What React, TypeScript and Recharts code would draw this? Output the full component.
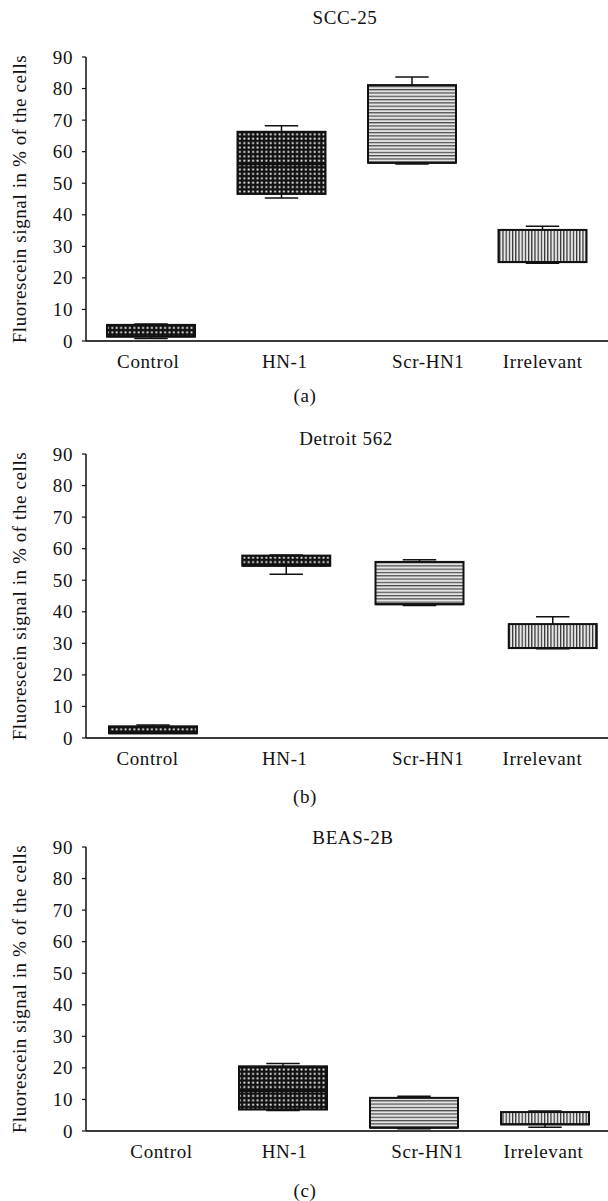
import React from 'react';
import { ComposedChart, Bar, XAxis, YAxis } from 'recharts';

const categories = ['Control', 'HN-1', 'Scr-HN1', 'Irrelevant'];
const yTicks = [0, 10, 20, 30, 40, 50, 60, 70, 80, 90];
const fillKinds = ['dots', 'dots', 'hstripes', 'vstripes'];

// (a) SCC-25
const sccMin = [0.8, 45.3, 56.1, 24.6];
const sccQ1 = [1.4, 46.6, 56.5, 25.0];
const sccMedian = [1.4, 56.0, 56.5, 25.0];
const sccQ3 = [5.1, 66.3, 81.1, 35.2];
const sccMax = [5.4, 68.2, 83.7, 36.4];

// (b) Detroit 562
const detMin = [1.5, 51.9, 42.0, 28.3];
const detQ1 = [1.5, 54.6, 42.4, 28.5];
const detMedian = [1.5, 54.6, 42.4, 28.5];
const detQ3 = [3.7, 57.8, 55.8, 36.1];
const detMax = [4.1, 58.0, 56.5, 38.4];

// (c) BEAS-2B
const beasMin = [null, 6.5, 0.75, 1.2];
const beasQ1 = [null, 6.8, 1.06, 2.1];
const beasMedian = [null, 12.7, 1.06, 2.1];
const beasQ3 = [null, 20.5, 10.5, 6.0];
const beasMax = [null, 21.4, 11.0, 6.3];

const FONT = '"Liberation Serif", "Times New Roman", serif';
const TEXT_STYLE: React.CSSProperties = { fontFamily: FONT, fontSize: 19, letterSpacing: '0.6px', fill: '#111', color: '#111' };

function buildRows(min: any[], q1: any[], med: any[], q3: any[], max: any[]) {
  return categories.map((name, i) => ({
    name,
    min: min[i],
    q1: q1[i],
    median: med[i],
    q3: q3[i],
    max: max[i],
    range: min[i] == null ? null : [min[i], max[i]],
  }));
}

function Patterns({ prefix }: { prefix: string }) {
  return (
    <defs>
      <pattern id={`${prefix}-dots`} patternUnits="userSpaceOnUse" width={4.4} height={4.4}>
        <rect x={0} y={0} width={4.4} height={4.4} fill="#121212" />
        <rect x={1.4} y={1.4} width={1.8} height={1.8} fill="#ffffff" />
      </pattern>
      <pattern id={`${prefix}-hstripes`} patternUnits="userSpaceOnUse" width={6} height={3.3}>
        <rect x={0} y={0} width={6} height={3.3} fill="#e4e4e4" />
        <rect x={0} y={0} width={6} height={1.2} fill="#4a4a4a" />
      </pattern>
      <pattern id={`${prefix}-vstripes`} patternUnits="userSpaceOnUse" width={3.2} height={6}>
        <rect x={0} y={0} width={3.2} height={6} fill="#e8e8e8" />
        <rect x={0} y={0} width={1.2} height={6} fill="#2e2e2e" />
      </pattern>
    </defs>
  );
}

function BoxShape(props: any) {
  const { x, y, width, height, payload, prefix } = props;
  if (!payload || payload.max == null || payload.min == null) return null;
  const top = Math.min(y, y + height);
  const bottom = Math.max(y, y + height);
  const span = payload.max - payload.min;
  if (!span) return null;
  const ppu = (bottom - top) / span;
  const toY = (v: number) => bottom - (v - payload.min) * ppu;
  const cx = x + width / 2;
  const capHalf = width * 0.19;
  const idx = categories.indexOf(payload.name);
  const fill = `url(#${prefix}-${fillKinds[idx]})`;
  const yq1 = toY(payload.q1);
  const yq3 = toY(payload.q3);
  const ymed = toY(payload.median);
  const ymax = toY(payload.max);
  const ymin = toY(payload.min);
  return (
    <g>
      <line x1={cx} x2={cx} y1={yq3} y2={ymax} stroke="#111" strokeWidth={1.5} />
      <line x1={cx - capHalf} x2={cx + capHalf} y1={ymax} y2={ymax} stroke="#111" strokeWidth={1.5} />
      <line x1={cx} x2={cx} y1={yq1} y2={ymin} stroke="#111" strokeWidth={1.5} />
      <line x1={cx - capHalf} x2={cx + capHalf} y1={ymin} y2={ymin} stroke="#111" strokeWidth={1.5} />
      <rect x={x} y={yq3} width={width} height={yq1 - yq3} fill={fill} stroke="#111" strokeWidth={2} />
      <line x1={x} x2={x + width} y1={ymed} y2={ymed} stroke="#111" strokeWidth={2} />
    </g>
  );
}

function YTick(props: any) {
  const { x, y, payload } = props;
  return (
    <text x={x} y={y} textAnchor="end" dominantBaseline="central" style={TEXT_STYLE}>
      {payload.value}
    </text>
  );
}

function makeXTick(shifts: number[]) {
  return function XTick(props: any) {
    const { x, y, payload, index } = props;
    const i = typeof index === 'number' ? index : categories.indexOf(payload.value);
    return (
      <text x={x + (shifts[i] || 0)} y={y + 20} textAnchor="middle" dominantBaseline="central" style={TEXT_STYLE}>
        {payload.value}
      </text>
    );
  };
}

function Txt({ x, y, children, rotate }: { x: number; y: number; children: React.ReactNode; rotate?: boolean }) {
  return (
    <div
      style={{
        position: 'absolute',
        left: x,
        top: y,
        transform: `translate(-50%, -50%)${rotate ? ' rotate(-90deg)' : ''}`,
        whiteSpace: 'nowrap',
        lineHeight: 1,
        fontFamily: FONT,
        fontSize: 19,
        letterSpacing: '0.6px',
        color: '#111',
      }}
    >
      {children}
    </div>
  );
}

function Panel({ prefix, rows, top, width, shifts }: { prefix: string; rows: any[]; top: number; width: number; shifts: number[] }) {
  const XTick = makeXTick(shifts);
  return (
    <div style={{ position: 'absolute', left: 0, top, width, height: 371 }}>
      <ComposedChart width={width} height={371} data={rows} margin={{ top: 57, right: 0, bottom: 0, left: 0 }}>
        <Patterns prefix={prefix} />
        <XAxis
          dataKey="name"
          type="category"
          interval={0}
          tickLine={false}
          tickSize={0}
          tickMargin={0}
          height={30}
          axisLine={{ stroke: '#3a3a3a', strokeWidth: 2 }}
          tick={<XTick />}
        />
        <YAxis
          type="number"
          domain={[0, 90]}
          ticks={yTicks}
          interval={0}
          width={86}
          tickSize={4}
          tickMargin={9}
          axisLine={{ stroke: '#111', strokeWidth: 1.5 }}
          tickLine={{ stroke: '#111', strokeWidth: 1.2 }}
          tick={<YTick />}
        />
        <Bar
          dataKey="range"
          barSize={88}
          isAnimationActive={false}
          shape={(p: any) => <BoxShape {...p} prefix={prefix} />}
        />
      </ComposedChart>
    </div>
  );
}

export default function App() {
  const rowsA = buildRows(sccMin, sccQ1, sccMedian, sccQ3, sccMax);
  const rowsB = buildRows(detMin, detQ1, detMedian, detQ3, detMax);
  const rowsC = buildRows(beasMin, beasQ1, beasMedian, beasQ3, beasMax);
  const yLabel = 'Fluorescein signal in % of the cells';
  return (
    <div style={{ position: 'absolute', left: 0, top: 0, width: 608, height: 1201, overflow: 'hidden', background: '#fff' }}>
      <Panel prefix="pa" rows={rowsA} top={0} width={608} shifts={[-3, 3, 16, 0]} />
      <Panel prefix="pb" rows={rowsB} top={397} width={619} shifts={[-5, -1, 9, -10]} />
      <Panel prefix="pc" rows={rowsC} top={790} width={610} shifts={[10, 2, 14, -1]} />

      <Txt x={345} y={17}>SCC-25</Txt>
      <Txt x={346} y={438}>Detroit 562</Txt>
      <Txt x={353} y={837}>BEAS-2B</Txt>

      <Txt x={19} y={199} rotate>{yLabel}</Txt>
      <Txt x={19} y={596} rotate>{yLabel}</Txt>
      <Txt x={19} y={989} rotate>{yLabel}</Txt>

      <Txt x={305} y={395}>(a)</Txt>
      <Txt x={305} y={796}>(b)</Txt>
      <Txt x={305} y={1190}>(c)</Txt>
    </div>
  );
}
